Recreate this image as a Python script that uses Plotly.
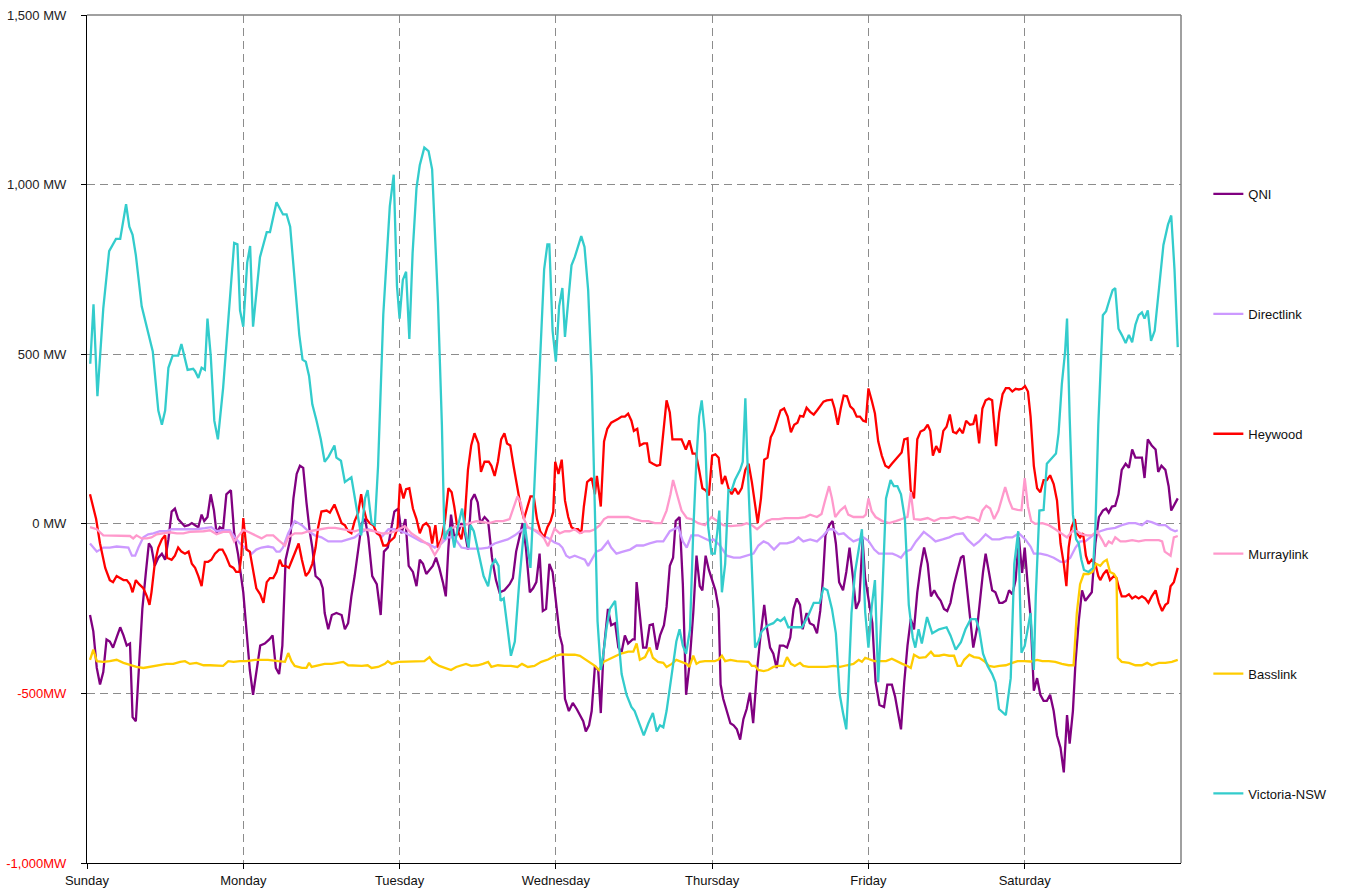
import plotly.graph_objects as go

# ---------------- axis categories / ticks ----------------
days = ["Sunday", "Monday", "Tuesday", "Wednesday", "Thursday", "Friday", "Saturday"]
day_hours = [0, 24, 48, 72, 96, 120, 144]
y_ticks = [-1000, -500, 0, 500, 1000, 1500]
y_labels = ["-1,000MW", "-500MW", "0 MW", "500 MW", "1,000 MW", "1,500 MW"]
y_label_colors = ["#FF0000", "#FF0000", "#222222", "#222222", "#222222", "#222222"]

# ---------------- series data (hours from Sunday 00:00, MW) ----------------
qni_h = [0.46, 0.97, 1.5, 2.0, 2.5, 3.0, 3.5, 4.0, 4.55, 5.1, 5.6, 6.1, 6.6, 7.0, 7.5, 8.0, 8.5, 9.05, 9.5, 9.9,
         10.4, 10.95, 11.5, 12.0, 12.5, 13.0, 13.5, 14.0, 14.5, 15.0, 15.6, 16.1, 16.6, 17.1, 17.6, 18.0, 18.5, 19.0,
         19.5, 19.9, 20.4, 20.9, 21.4, 22.1, 22.6, 23.2, 24.0, 24.5, 25.0, 25.5, 26.0, 26.6, 27.3, 28.0, 28.5, 29.0,
         29.5, 30.0, 30.5, 31.2, 31.7, 32.2, 32.7, 33.2, 33.7, 34.2, 34.6, 35.1, 35.8, 36.2, 36.5, 37.05, 37.6, 38.3,
         39.1, 39.6, 40.1, 40.6, 41.1, 41.7, 42.2, 42.7, 43.2, 43.8, 44.5, 45.1, 45.6, 46.2, 46.7, 47.2, 47.8, 48.3,
         48.9, 49.4, 50.05, 50.6, 51.1, 51.6, 52.1, 52.6, 53.1, 53.6, 54.1, 54.65, 55.1, 55.5, 55.9, 56.4, 56.95, 57.5,
         58.0, 58.5, 59.0, 59.5, 60.0, 60.4, 61.05, 61.6, 62.2, 62.8, 63.35, 64.1, 64.9, 65.4, 65.9, 66.4, 66.9, 67.4,
         68.0, 68.5, 69.0, 69.5, 70.0, 70.5, 71.0, 71.5, 72.05, 72.6, 73.0, 73.4, 74.0, 74.6, 75.2, 75.7, 76.2, 76.6,
         77.1, 77.5, 78.0, 78.5, 78.9, 79.3, 79.7, 80.0, 80.5, 81.1, 81.6, 82.1, 82.6, 83.1, 83.8, 84.1, 84.4, 84.9,
         85.4, 85.9, 86.4, 86.9, 87.5, 88.0, 88.6, 89.0, 89.5, 90.0, 90.4, 91.0, 91.5, 92.0, 92.5, 93.1, 93.6, 94.1,
         94.5, 95.0, 95.5, 96.0, 96.5, 97.0, 97.3, 97.7, 98.25, 98.8, 99.3, 99.8, 100.3, 100.8, 101.3, 101.8, 102.3,
         102.9, 103.4, 104.0, 104.4, 104.9, 105.4, 105.9, 106.4, 106.95, 107.5, 108.0, 108.5, 109.0, 109.5, 109.9,
         110.5, 111.0, 111.6, 112.1, 112.6, 113.0, 113.4, 114.0, 114.5, 115.0, 115.5, 116.1, 116.6, 117.1, 117.6,
         118.1, 118.6, 119.1, 119.5, 120.0, 120.6, 121.1, 121.7, 122.4, 122.9, 123.6, 124.1, 124.6, 125.0, 125.5,
         126.0, 126.5, 127.0, 127.5, 128.0, 128.55, 129.1, 129.6, 130.1, 130.6, 131.1, 131.6, 132.1, 132.6, 133.15,
         133.7, 134.2, 134.6, 135.1, 135.6, 136.1, 136.7, 137.1, 137.6, 138.0, 138.5, 139.0, 139.5, 140.1, 140.6,
         141.1, 141.6, 142.1, 142.6, 143.1, 143.6, 144.0, 144.4, 144.9, 145.4, 145.9, 146.4, 146.9, 147.4, 147.9,
         148.45, 148.96, 149.5, 150.0, 150.5, 150.9, 151.4, 151.8, 152.3, 152.8, 153.3, 153.8, 154.3, 154.85, 155.4,
         156.0, 156.5, 156.9, 157.4, 157.9, 158.4, 158.9, 159.5, 160.0, 160.5, 161.0, 161.5, 162.0, 162.4, 162.9,
         163.5, 164.1, 164.5, 165.0, 165.6, 166.1, 166.5, 167.0, 167.5]
qni_mw = [-269, -317, -425, -474, -437, -341, -347, -365, -335, -305, -329, -359, -353, -570, -582, -407, -251, -142, -58, -70,
          -124, -100, -88, -106, -46, 36, 45, 14, 2, -7, -4, 2, -4, -10, 27, 8, 20, 87,
          39, -28, -10, -16, 87, 99, -28, -90, -202, -311, -431, -504, -437, -359, -353, -341, -329, -425,
          -443, -359, -106, -46, 75, 147, 171, 165, 63, -22, -70, -154, -166, -190, -263, -311, -269, -263,
          -269, -311, -293, -214, -154, -70, 2, 14, -40, -154, -178, -269, -82, -70, -10, 36, 45, -28,
          14, -124, -142, -184, -106, -118, -148, -136, -124, -100, -130, -172, -214, -70, 27, -40, -28, 2,
          -22, -76, 69, 87, 63, 2, 20, 8, -100, -166, -202, -196, -178, -160, -82, -40, 2, -70,
          -202, -190, -172, -88, -257, -251, -118, -142, -236, -330, -359, -516, -552, -528, -546, -564, -582, -612,
          -594, -552, -419, -431, -558, -383, -299, -251, -299, -293, -365, -377, -329, -353, -341, -341, -172, -275,
          -365, -365, -299, -296, -371, -329, -299, -245, -124, -100, 8, 20, -178, -504, -419, -263, -94, -184,
          -196, -94, -136, -166, -196, -251, -474, -516, -552, -588, -594, -606, -636, -576, -546, -498, -588,
          -431, -335, -239, -305, -365, -383, -425, -359, -359, -365, -335, -251, -220, -239, -311,
          -263, -293, -299, -323, -257, -166, -34, -4, 8, -58, -172, -196, -142, -70, -154,
          -251, -227, -46, -160, -220, -293, -467, -534, -540, -474, -474, -510, -564, -606, -467,
          -359, -281, -311, -202, -130, -70, -118, -214, -196, -214, -227, -251, -257, -233, -178,
          -136, -100, -94, -184, -281, -365, -305, -227, -142, -88, -142, -196, -202, -233, -233,
          -227, -196, -208, -166, -40, -145, -70, -166, -275, -492, -455, -504, -522, -522, -504,
          -552, -624, -660, -733, -564, -648, -552, -407, -287, -196, -227, -214, -202, -58, 20,
          39, 45, 33, 51, 53, 87, 159, 177, 165, 219, 195, 195, 195, 135, 249,
          231, 219, 153, 171, 159, 111, 39, 57, 75]

directlink_h = [0.46, 1.5, 2.5, 3.5, 4.55, 5.6, 6.35, 6.9, 7.4, 7.9, 8.65, 9.4, 10.2, 11.2, 12.2, 13.0, 14.3, 15.6, 16.8,
                18.1, 19.1, 19.9, 20.9, 21.95, 22.7, 23.5, 24.5, 25.3, 26.0, 26.8, 27.8, 28.6, 29.1, 29.6, 30.1, 30.9,
                31.9, 33.0, 34.0, 35.0, 36.0, 37.05, 38.1, 39.1, 40.1, 41.1, 41.9, 42.4, 43.2, 44.2, 45.2, 46.3, 47.3,
                48.0, 49.0, 50.3, 51.3, 52.35, 53.4, 54.4, 55.4, 56.4, 57.5, 58.5, 59.5, 60.5, 61.6, 62.6, 63.6, 64.6,
                65.7, 66.7, 67.7, 68.7, 69.75, 70.8, 71.8, 72.5, 73.0, 73.6, 74.1, 74.9, 75.7, 76.45, 76.96, 77.5, 78.2,
                79.0, 80.0, 80.5, 81.3, 82.3, 83.4, 84.4, 85.4, 86.4, 87.5, 88.5, 89.5, 90.8, 91.5, 92.1, 92.8, 93.85,
                94.6, 95.6, 96.2, 97.2, 98.25, 99.3, 100.3, 101.3, 102.35, 103.1, 103.9, 104.6, 105.5, 106.4, 107.5,
                108.5, 109.25, 110.0, 111.05, 112.1, 113.1, 113.9, 114.6, 115.4, 116.2, 116.9, 117.7, 118.5, 119.2,
                120.0, 120.9, 121.6, 122.7, 123.7, 124.45, 125.0, 125.7, 126.5, 127.3, 128.0, 128.5, 129.6, 130.3,
                131.4, 132.4, 133.4, 134.5, 135.2, 136.2, 137.0, 138.0, 139.0, 140.1, 141.1, 142.1, 143.1, 144.1,
                144.9, 145.4, 146.4, 147.4, 148.45, 149.5, 150.2, 151.0, 151.8, 152.5, 153.3, 154.1, 154.85, 155.6,
                156.6, 157.9, 158.9, 160.0, 161.0, 162.0, 162.8, 163.5, 164.6, 165.6, 166.4, 167.1, 167.5]
directlink_mw = [-58, -82, -70, -70, -67, -70, -70, -94, -94, -70, -40, -31, -28, -22, -22, -16, -16, -16, -16,
                 -13, -10, -22, -19, -19, -40, -58, -76, -88, -76, -70, -67, -70, -82, -82, -70, -28,
                 8, -4, -22, -34, -40, -52, -52, -52, -46, -40, -28, -22, -16, -22, -40, -16, -16,
                 -20, -28, -43, -52, -58, -70, -58, -40, -40, -70, -73, -73, -73, -70, -58, -52, -46,
                 -34, -19, -10, -19, -34, -42, -55, -60, -70, -94, -100, -94, -100, -106, -124, -106, -82,
                 -76, -52, -70, -88, -82, -76, -64, -64, -58, -52, -52, -22, -10, -52, -70, -34, -34,
                 -40, -50, -46, -64, -94, -100, -100, -94, -88, -64, -52, -58, -76, -58, -58,
                 -52, -40, -52, -46, -52, -34, -16, -16, -31, -28, -40, -52, -46, -40,
                 -50, -76, -88, -88, -88, -94, -100, -82, -76, -52, -34, -24, -40, -52,
                 -46, -40, -31, -28, -46, -64, -52, -31, -46, -46, -40, -40, -28, -46,
                 -67, -88, -88, -92, -100, -112, -112, -100, -70, -52, -52, -40, -28, -22,
                 -16, -12, -4, 2, 2, -4, 8, 5, -4, -4, -16, -22, -19]

heywood_h = [0.46, 1.4, 2.0, 2.8, 3.5, 4.0, 4.55, 5.1, 5.6, 6.1, 6.6, 7.0, 7.5, 8.0, 8.65, 9.2, 9.6, 9.9, 10.4, 10.95,
             11.5, 12.0, 12.3, 13.0, 13.5, 14.0, 14.5, 15.05, 15.6, 16.1, 16.6, 17.1, 17.6, 18.1, 18.6, 19.1, 19.65,
             20.3, 20.8, 21.3, 21.95, 22.5, 22.9, 23.4, 23.7, 24.0, 24.5, 25.0, 25.5, 26.0, 26.6, 27.1, 27.6, 28.1,
             28.6, 29.1, 29.6, 30.0, 30.5, 31.0, 31.5, 32.0, 32.5, 33.0, 33.6, 34.1, 34.6, 35.1, 35.5, 36.0, 36.8,
             37.3, 38.0, 38.6, 39.1, 39.6, 40.1, 40.6, 41.1, 41.65, 42.1, 42.4, 42.9, 43.4, 43.96, 44.5, 45.0, 45.5,
             46.0, 46.5, 47.2, 47.7, 48.05, 48.6, 49.0, 49.5, 50.05, 50.6, 51.1, 51.6, 52.1, 52.6, 53.0, 53.5, 53.9,
             54.5, 55.0, 55.5, 56.0, 56.4, 56.95, 57.5, 58.0, 58.5, 59.0, 59.5, 60.1, 60.5, 61.05, 61.7, 62.1, 62.6,
             63.1, 63.6, 64.1, 64.5, 65.0, 65.5, 66.1, 66.6, 67.1, 67.6, 68.1, 68.6, 69.1, 69.6, 70.2, 70.7, 71.2,
             71.6, 71.9, 72.4, 72.9, 73.4, 73.9, 74.4, 74.9, 75.4, 75.9, 76.3, 76.8, 77.5, 78.0, 78.3, 78.9, 79.4,
             79.9, 80.5, 81.1, 81.6, 82.1, 82.6, 83.1, 83.6, 83.98, 84.5, 84.9, 85.5, 86.0, 86.4, 86.9, 87.5, 88.0,
             88.5, 89.0, 89.5, 89.9, 90.5, 91.3, 91.96, 92.5, 93.0, 93.5, 94.0, 94.5, 95.0, 95.5, 96.0, 96.5, 97.0,
             97.5, 98.0, 98.5, 99.0, 99.5, 100.0, 100.55, 101.1, 101.6, 102.1, 102.6, 103.0, 103.5, 104.0, 104.5,
             105.0, 105.5, 106.0, 106.5, 107.05, 107.6, 108.1, 108.6, 109.1, 109.5, 110.0, 110.5, 111.05, 111.6,
             112.1, 112.6, 113.1, 113.6, 114.4, 114.8, 115.3, 115.75, 116.2, 116.7, 117.2, 117.7, 118.2, 118.7,
             119.2, 119.6, 120.0, 120.5, 121.0, 121.5, 122.05, 122.6, 123.1, 123.6, 124.1, 124.6, 125.1, 125.5,
             126.0, 126.5, 127.0, 127.5, 128.0, 128.55, 129.1, 129.5, 129.9, 130.4, 130.95, 131.5, 132.0, 132.5,
             133.0, 133.5, 134.0, 134.5, 135.0, 135.6, 136.1, 136.5, 137.0, 137.5, 138.0, 138.5, 139.0, 139.6,
             140.1, 140.6, 141.1, 141.6, 142.1, 142.6, 143.1, 143.6, 144.05, 144.5, 144.9, 145.4, 145.9, 146.4,
             146.9, 147.4, 147.9, 148.45, 148.96, 149.5, 150.0, 150.4, 150.75, 151.2, 151.7, 152.0, 152.5, 152.96,
             153.4, 153.8, 154.3, 154.85, 155.3, 155.6, 156.1, 156.6, 157.1, 157.7, 158.1, 158.4, 158.9, 159.5,
             160.0, 160.5, 161.0, 161.5, 162.0, 162.5, 163.0, 163.5, 164.1, 164.6, 165.1, 165.6, 166.0, 166.4,
             166.9, 167.5]
heywood_mw = [87, 14, -58, -130, -166, -172, -154, -160, -166, -166, -178, -202, -166, -178, -190, -214, -239, -202, -118, -70,
              -46, -34, -100, -106, -94, -70, -82, -88, -82, -118, -130, -154, -184, -112, -112, -106, -88,
              -76, -76, -94, -124, -130, -142, -142, -94, 17, -76, -82, -142, -190, -208, -233, -172, -160,
              -160, -142, -106, -124, -124, -130, -106, -82, -58, -106, -154, -142, -118, -70, -10, 36, 39,
              33, 57, 27, 2, -4, -22, -28, 8, 33, 87, 51, 14, 2, -4, -28, -34, -64,
              -64, -52, -40, -10, 117, 75, 102, 105, 45, 14, -28, -4, 2, -10, -58, -4, -70,
              -40, 14, 105, 93, 51, -22, -46, 14, 159, 231, 267, 237, 153, 183, 183, 171, 141,
              183, 249, 267, 237, 231, 171, 99, 51, 14, 51, 81, 81, 14, -22, -40, -10, 8,
              35, 183, 147, 189, 69, 20, -10, -16, -16, -28, 51, 123, 135, 87, 141, 51, 243,
              280, 298, 306, 310, 316, 316, 325, 304, 274, 280, 231, 237, 237, 183, 177, 171, 174,
              267, 364, 328, 249, 249, 249, 219, 246, 207, 207, 159, 105, 99, 84, 201, 205, 195,
              117, 141, 105, 87, 105, 87, 105, 159, 177, 123, 63, 2, 75, 189, 195,
              255, 274, 304, 334, 340, 316, 270, 292, 298, 318, 316, 342, 330, 322,
              334, 346, 360, 364, 366, 340, 292, 340, 378, 376, 346, 337, 316, 316,
              304, 301, 399, 364, 325, 243, 201, 171, 165, 177, 189, 201, 210, 249,
              252, 99, 75, 249, 272, 277, 292, 274, 201, 229, 210, 274, 286, 322,
              271, 267, 280, 267, 304, 292, 294, 322, 237, 340, 364, 369, 364, 229,
              328, 382, 400, 400, 390, 398, 396, 398, 406, 390, 316, 171, 105, 93,
              129, 129, 143, 117, 69, -58, -118, -184, -70, -10, 14, -28, -40, -28,
              -94, -118, -106, -118, -154, -166, -148, -136, -166, -154, -160, -184, -214, -214,
              -208, -220, -214, -220, -214, -220, -233, -214, -196, -233, -257, -239, -233, -184,
              -172, -130]

murraylink_h = [0.46, 1.5, 2.5, 3.5, 4.55, 5.6, 6.6, 7.1, 7.6, 8.4, 9.2, 9.9, 10.7, 11.7, 12.7, 13.8, 14.8, 15.8, 16.8,
                17.9, 18.9, 19.9, 20.9, 21.95, 22.6, 23.4, 24.0, 24.8, 25.5, 26.0, 26.8, 27.6, 28.6, 29.4, 30.4, 30.9,
                31.9, 33.0, 34.0, 35.0, 36.0, 37.05, 38.1, 39.1, 40.1, 41.1, 42.2, 43.2, 44.2, 45.2, 46.3, 47.3, 48.0,
                48.8, 49.8, 50.8, 51.8, 52.6, 53.4, 54.1, 54.9, 55.7, 56.7, 57.7, 58.75, 59.8, 60.8, 61.8, 62.8, 63.9,
                64.9, 65.55, 66.1, 66.6, 67.1, 67.7, 68.5, 69.2, 70.2, 70.8, 71.3, 71.8, 72.6, 73.4, 74.1, 74.9, 75.7,
                76.45, 77.2, 78.0, 78.75, 79.4, 80.0, 81.1, 82.1, 83.1, 84.1, 85.2, 86.2, 87.2, 88.2, 89.0, 89.6, 90.0,
                90.6, 91.3, 92.1, 92.8, 93.85, 94.9, 95.9, 96.7, 97.7, 98.8, 99.8, 100.55, 101.3, 102.1, 102.9, 103.6,
                104.4, 105.2, 106.2, 107.2, 108.2, 109.25, 110.3, 111.05, 112.1, 112.8, 113.35, 113.96, 114.4, 114.9,
                115.65, 116.4, 116.9, 117.7, 118.5, 119.2, 119.6, 120.0, 120.5, 121.1, 122.15, 123.2, 124.2, 125.2,
                126.0, 126.5, 127.0, 128.0, 129.1, 130.1, 131.1, 132.1, 133.15, 134.2, 135.2, 136.2, 137.0, 137.5,
                138.1, 138.7, 139.3, 139.96, 140.5, 141.0, 141.6, 142.1, 142.9, 143.5, 144.0, 144.5, 145.0, 145.6,
                146.7, 147.7, 148.7, 149.7, 150.5, 151.3, 152.0, 152.8, 153.6, 154.3, 155.1, 155.9, 156.4, 156.9,
                157.4, 157.9, 158.7, 159.5, 160.5, 161.5, 162.5, 163.5, 164.6, 165.1, 165.5, 166.4, 166.9, 167.5]
murraylink_mw = [-10, -16, -34, -34, -34, -36, -36, -43, -34, -43, -43, -40, -31, -28, -25, -28, -28, -24, -24,
                 -22, -19, -31, -24, -24, -52, -34, -18, -24, -31, -36, -43, -34, -34, -48, -64, -40,
                 -28, -28, -22, -19, -16, -12, -12, -16, -19, -22, -16, -19, -22, -28, -28, -22, -16,
                 -7, -28, -40, -52, -64, -92, -70, -28, -16, -7, -7, 2, 8, 5, 2, 8, 8,
                 14, 51, 81, 63, 14, -10, -16, -22, -43, -66, -40, -14, -28, -22, -22, -16, -28,
                 -22, -22, -16, -4, 14, 20, 20, 20, 20, 14, 8, 8, 2, 2, 39, 87, 129,
                 87, 39, 17, 14, 2, -4, 20, 10, -4, -7, -4, -4, 2, -4, -16, -4,
                 8, 14, 14, 17, 17, 17, 20, 27, 20, 29, 69, 111, 75, 20,
                 39, 51, 27, 20, 20, 20, 27, 75, 37, 20, 8, 2, 8, 14,
                 20, 93, 14, 12, 17, 8, 17, 17, 20, 14, 20, 17, 8, 39,
                 53, 45, 14, 39, 75, 108, 69, 45, 41, 40, 135, 51, 8, 0,
                 2, -4, -16, -28, -40, -22, -22, -31, -34, -34, -22, -48, -67, -52,
                 -58, -40, -52, -52, -48, -52, -48, -48, -48, -52, -82, -94, -40, -36]

basslink_h = [0.46, 0.97, 1.5, 2.5, 3.5, 4.55, 5.6, 6.6, 7.6, 8.65, 9.7, 10.4, 11.2, 12.2, 13.25, 14.3, 15.05, 15.8, 16.8,
              17.9, 18.9, 19.9, 20.9, 21.7, 22.5, 23.5, 24.5, 25.8, 27.8, 29.4, 30.4, 30.9, 31.4, 31.9, 33.0, 33.7,
              34.1, 34.5, 35.5, 36.5, 37.6, 38.6, 39.35, 40.1, 41.1, 42.2, 43.1, 43.7, 44.7, 45.75, 46.2, 46.8, 47.8,
              48.8, 50.6, 51.8, 52.6, 53.1, 54.1, 55.2, 55.9, 56.7, 57.5, 58.2, 59.0, 60.0, 60.8, 61.6, 62.1, 63.1,
              64.1, 65.1, 66.1, 66.8, 67.7, 68.7, 69.75, 70.8, 71.8, 72.8, 73.9, 74.9, 75.7, 76.45, 77.2, 78.0, 78.6,
              79.3, 80.0, 80.8, 81.6, 82.3, 83.1, 83.9, 84.4, 84.9, 85.7, 86.4, 86.9, 87.7, 88.5, 89.0, 89.8, 90.5,
              91.3, 92.1, 92.5, 93.1, 93.6, 94.1, 94.9, 95.6, 96.4, 97.0, 97.5, 98.0, 98.8, 99.8, 100.8, 101.6, 102.1,
              102.6, 103.1, 103.9, 104.6, 105.4, 106.2, 106.95, 107.5, 108.1, 108.7, 109.5, 110.0, 110.8, 111.6,
              112.6, 113.6, 114.65, 115.65, 116.7, 117.7, 118.5, 119.0, 119.5, 120.3, 120.9, 121.6, 122.7, 123.6,
              124.45, 125.2, 126.0, 126.5, 127.0, 127.8, 128.8, 129.6, 130.1, 130.85, 131.6, 132.4, 133.15, 133.7,
              134.2, 134.7, 135.5, 136.2, 137.0, 137.8, 138.5, 139.3, 140.1, 141.1, 142.1, 142.9, 143.9, 144.9,
              145.9, 146.7, 147.7, 148.7, 149.7, 150.75, 151.5, 152.0, 152.5, 153.06, 153.8, 154.4, 154.95, 155.6,
              156.1, 156.6, 157.1, 157.7, 158.1, 158.3, 158.9, 160.0, 161.0, 162.0, 162.8, 163.5, 164.6, 165.6,
              166.6, 167.5]
basslink_mw = [-401, -371, -405, -407, -405, -401, -410, -417, -422, -425, -422, -419, -417, -413, -413, -407, -405, -413, -410,
               -417, -417, -419, -419, -405, -407, -405, -405, -401, -401, -405, -407, -381, -405, -419, -425, -425,
               -410, -422, -417, -413, -413, -410, -407, -417, -419, -419, -417, -425, -422, -413, -405, -413, -407,
               -407, -405, -405, -393, -407, -419, -425, -431, -422, -417, -413, -419, -417, -413, -407, -422, -417,
               -419, -419, -422, -413, -422, -419, -407, -400, -390, -385, -386, -386, -389, -398, -407, -419, -431,
               -407, -401, -393, -386, -381, -377, -377, -353, -401, -393, -365, -395, -407, -410, -422, -413, -401,
               -407, -413, -422, -389, -413, -407, -405, -405, -405, -400, -389, -405, -401, -405, -405, -407, -419,
               -419, -431, -434, -431, -422, -419, -419, -393, -413, -419, -410, -419, -422, -422,
               -422, -422, -419, -422, -417, -413, -401, -407, -395, -401, -405, -405, -405, -398,
               -407, -413, -419, -425, -386, -395, -393, -377, -389, -389, -386, -389, -389, -419,
               -419, -401, -386, -393, -395, -405, -419, -422, -419, -417, -410, -405, -405, -406,
               -401, -405, -405, -407, -413, -417, -417, -263, -178, -148, -148, -142, -118, -124,
               -112, -106, -142, -148, -160, -395, -407, -410, -417, -417, -410, -417, -410, -410,
               -407, -401]

vicnsw_h = [0.5, 1.0, 1.6, 2.5, 3.4, 4.45, 5.1, 6.0, 6.5, 7.0, 7.5, 8.4, 10.1, 10.95, 11.5, 12.0, 12.5, 13.15, 14.0, 14.5,
            15.45, 16.3, 16.6, 17.1, 17.6, 18.1, 18.5, 19.0, 19.55, 20.1, 20.9, 21.7, 22.6, 23.1, 23.5, 24.0, 24.6,
            25.05, 25.5, 26.56, 27.6, 28.1, 29.1, 30.1, 30.65, 31.2, 31.9, 32.6, 33.1, 33.6, 34.1, 34.6, 35.25, 35.9,
            36.5, 37.1, 38.0, 38.3, 39.0, 39.6, 40.6, 41.2, 42.1, 42.7, 43.1, 43.7, 44.2, 44.7, 45.5, 46.5, 47.1,
            47.6, 48.0, 48.5, 49.0, 49.5, 50.0, 50.6, 51.1, 51.8, 52.45, 53.0, 53.9, 54.5, 54.9, 55.4, 55.9, 56.4,
            57.0, 57.6, 58.1, 58.6, 58.9, 59.4, 60.1, 60.9, 61.6, 62.1, 62.7, 63.2, 63.5, 64.0, 64.6, 65.1, 65.7,
            66.4, 67.2, 67.7, 68.1, 68.7, 69.5, 70.2, 70.7, 71.0, 71.5, 72.0, 72.5, 73.0, 73.4, 73.9, 74.4, 74.9,
            75.4, 75.9, 76.4, 76.96, 77.5, 78.0, 78.4, 78.9, 79.3, 79.8, 80.3, 80.7, 81.1, 81.6, 82.1, 82.85, 83.6,
            84.1, 84.8, 85.5, 86.2, 86.9, 87.5, 88.0, 88.5, 89.0, 89.8, 90.5, 91.0, 91.5, 92.0, 92.6, 93.1, 93.6,
            94.0, 94.4, 94.9, 95.4, 95.9, 96.4, 96.8, 97.1, 97.5, 98.0, 98.5, 99.0, 99.5, 100.3, 100.7, 101.1,
            101.4, 101.9, 102.6, 103.1, 103.6, 104.6, 105.4, 106.0, 106.5, 107.1, 107.7, 108.7, 109.8, 110.8,
            111.6, 112.5, 113.1, 113.7, 114.4, 115.0, 115.6, 116.1, 116.6, 116.9, 117.4, 117.95, 118.5, 119.0,
            119.5, 120.0, 120.5, 121.0, 121.5, 122.1, 122.7, 123.4, 123.9, 124.45, 125.0, 125.6, 126.2, 126.8,
            127.2, 127.7, 128.2, 129.0, 129.8, 130.85, 132.0, 132.6, 133.4, 134.2, 134.9, 135.7, 136.5, 137.0,
            137.6, 138.3, 139.0, 139.5, 140.05, 141.1, 141.85, 142.4, 143.0, 143.5, 144.0, 144.5, 144.9, 145.4,
            145.7, 146.25, 146.9, 147.4, 148.2, 148.8, 149.2, 149.7, 150.2, 150.5, 150.9, 151.4, 151.9, 152.3,
            152.7, 153.1, 153.8, 154.5, 154.85, 155.3, 156.0, 156.5, 157.0, 157.5, 157.9, 158.4, 158.9, 159.5,
            160.0, 160.5, 161.0, 161.5, 162.0, 162.4, 162.9, 163.4, 163.96, 164.6, 165.3, 166.0, 166.5, 167.0,
            167.5]
vicnsw_mw = [472, 647, 376, 635, 804, 840, 840, 942, 876, 852, 792, 641, 508, 334, 292, 334, 460, 496, 496, 530,
             454, 457, 450, 430, 460, 454, 605, 496, 304, 249, 400, 605, 828, 824, 629, 581, 770,
             819, 581, 786, 860, 860, 948, 912, 912, 876, 713, 557, 484, 478, 436, 352, 304, 249,
             183, 198, 231, 195, 186, 123, 137, 63, -34, 75, 99, 2, -4, 171, 617, 936, 1029,
             701, 605, 719, 743, 545, 798, 990, 1057, 1109, 1099, 1045, 653, 291, -46, -22, -10, -70,
             -4, 45, -22, -70, -4, -22, -82, -154, -184, -124, -106, -124, -227, -220, -311, -389, -347,
             -166, 2, -70, -130, 111, 460, 750, 824, 824, 569, 478, 641, 695, 551, 665, 762, 786,
             816, 848, 816, 689, 436, 51, -287, -431, -383, -305, -251, -239, -227, -335, -443, -504, -540,
             -552, -588, -624, -588, -558, -612, -594, -600, -552, -443, -347, -311, -359, -383, -311, -22, 195,
             316, 364, 267, -10, -88, -88, -22, 39, -202, -118, 99, 99, 129, 159, 183, 370,
             195, -46, -365, -347, -317, -299, -293, -281, -287, -277, -305, -305, -305, -269,
             -233, -233, -190, -196, -251, -323, -504, -558, -606, -492, -263, -142, -70, -16,
             -260, -365, -245, -166, -467, -227, 75, 129, 111, 111, 87, 14, -239, -335,
             -365, -311, -353, -275, -323, -311, -305, -329, -371, -349, -311, -281, -281, -311,
             -383, -419, -443, -467, -546, -564, -455, -118, -22, -380, -360, -311, -263, -431,
             -214, 39, 41, 177, 195, 207, 267, 412, 508, 605, 316, 27, -46, -58,
             -106, -136, -142, -130, -10, 292, 615, 627, 659, 689, 695, 575, 557, 533,
             557, 535, 587, 615, 623, 605, 629, 539, 569, 689, 822, 882, 909, 750,
             521]

series = [
    ("QNI", qni_h, qni_mw, "#800080"),
    ("Directlink", directlink_h, directlink_mw, "#CC99FF"),
    ("Heywood", heywood_h, heywood_mw, "#FF0000"),
    ("Murraylink", murraylink_h, murraylink_mw, "#FF99CC"),
    ("Basslink", basslink_h, basslink_mw, "#FFCC00"),
    ("Victoria-NSW", vicnsw_h, vicnsw_mw, "#33CCCC"),
]

FONT = "Liberation Sans, Arial, sans-serif"

fig = go.Figure()
for name, xs, ys, col in series:
    fig.add_trace(go.Scatter(
        x=xs, y=ys, mode="lines", name=name, legendgroup=name,
        line=dict(color=col, width=2.3),
        hovertemplate=name + ": %{y} MW<extra></extra>",
    ))

ytext = ["<span style='color:%s'>%s</span>" % (c, t) for t, c in zip(y_labels, y_label_colors)]

fig.update_layout(
    width=1351, height=890,
    margin=dict(l=87, r=170, t=15, b=27, autoexpand=False),
    paper_bgcolor="white", plot_bgcolor="white",
    font=dict(family=FONT, size=13, color="#222222"),
    showlegend=True,
    legend=dict(
        x=1.025, xanchor="left", y=0.8066, yanchor="top",
        tracegroupgap=100, font=dict(family=FONT, size=13, color="#111111"),
        bgcolor="rgba(0,0,0,0)", itemwidth=30,
    ),
    xaxis=dict(
        range=[0, 168], tickmode="array", tickvals=day_hours, ticktext=days,
        showgrid=True, gridcolor="#8c8c8c", gridwidth=1, griddash="8px,5px",
        showline=True, linecolor="#000000", linewidth=1.3,
        ticks="outside", ticklen=5, tickcolor="#000000",
        zeroline=False, fixedrange=True, automargin=False,
        tickfont=dict(family=FONT, size=13, color="#111111"),
    ),
    yaxis=dict(
        range=[-1000, 1500], tickmode="array", tickvals=y_ticks, ticktext=ytext,
        showgrid=True, gridcolor="#8c8c8c", gridwidth=1, griddash="8px,5px",
        showline=True, linecolor="#000000", linewidth=1.3,
        ticks="outside", ticklen=5, tickcolor="#000000", ticklabelstandoff=12,
        zeroline=False, fixedrange=True, automargin=False,
        tickfont=dict(family=FONT, size=13, color="#222222"),
    ),
    shapes=[
        dict(type="line", xref="paper", yref="paper", x0=0, x1=1, y0=1, y1=1,
             line=dict(color="#808080", width=1.5), layer="above"),
        dict(type="line", xref="paper", yref="paper", x0=1, x1=1, y0=0, y1=1,
             line=dict(color="#808080", width=1.5), layer="above"),
    ],
)

fig.write_html(
    "out.html",
    config={"displayModeBar": False},
    post_script="document.body.style.margin='0px';document.body.style.overflow='hidden';",
)
